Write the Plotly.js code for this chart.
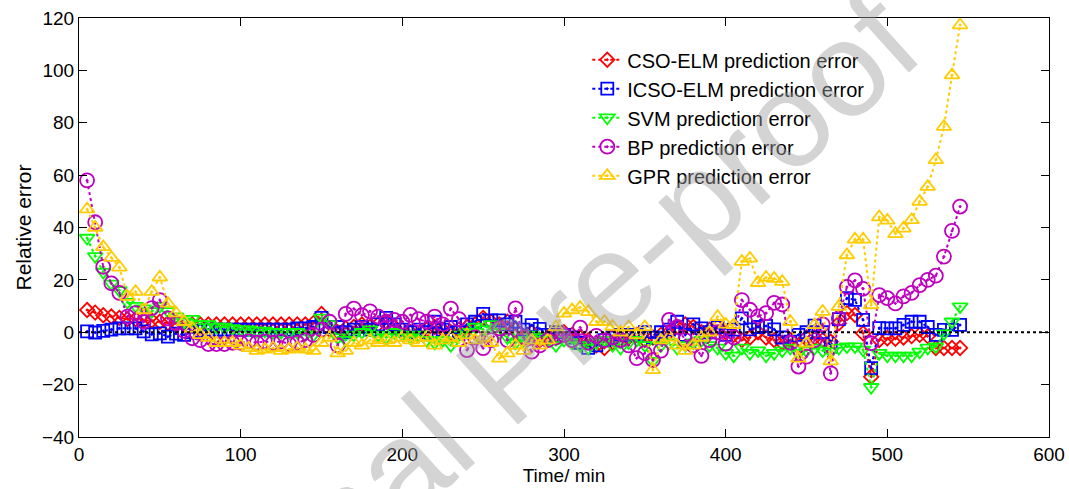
<!DOCTYPE html>
<html>
<head>
<meta charset="utf-8">
<script src="https://cdn.plot.ly/plotly-3.0.1.min.js"></script>
<style>html,body{margin:0;padding:0;background:#fff}#chart{width:1069px;height:489px}</style>
</head>
<body>
<div id="chart"></div>
<script>
const timeMin = [5,10,15,20,25,30,35,40,45,50,55,60,65,70,75,80,85,90,95,100,
105,110,115,120,125,130,135,140,145,150,155,160,165,170,175,180,185,190,195,200,
205,210,215,220,225,230,235,240,245,250,255,260,265,270,275,280,285,290,295,300,
305,310,315,320,325,330,335,340,345,350,355,360,365,370,375,380,385,390,395,400,
405,410,415,420,425,430,435,440,445,450,455,460,465,470,475,480,485,490,495,500,
505,510,515,520,525,530,535,540,545];

const csoElm = [8.5,7.5,6.5,6,5.5,5,5,4.5,4.5,4,
3.5,3.5,3,3,3,3,3,3,3,3,
3,3,3,3,3,3,3,3,3.5,7,
1,0,1.5,2,3,2,3,4,2,1,
0,-1,1,2,1,0,1,2,3,5.5,
4,3,4,1,-2,0,-3,-2,-1,0,
-1,-2,-3,-5,-6,-4,-3,-2,-1,-3,
-2,-1,0,2,3,2,0,1,2,0,
-1,-3,-2,0,-2,-3,-4,-3,-5,-2,
-2,-3,-3.6,3.4,7.3,6.6,-0.4,-17,-3,-2.3,
-2.5,-2,-1.5,-1,-1.5,-6,-6,-6,-6];

const icsoElm = [0.3,-0.1,0.5,1,1.5,1.5,1.5,0.3,-0.8,-0.4,
-1.7,-0.5,-1,0,0.5,1,1,1,1,1,
1,1,1,1,1,1,1.5,1.5,2,5.5,
2,2,0,1,2,1,3,5.5,3,1,
0,1,0,4,1,2,0,3,4,7,
4.5,4.5,3,4,1,2.7,1.3,-1,0,-1,
-2,-4,-6,-5,-3,-2,-1,-1,-1,0,
-2,0,1,4,-1,3,1.5,0,2,-1,
1,5.3,1.1,2,2.4,1.1,-2,-3.6,-1,0,
2.5,0,-5.5,5,13,12.4,4.7,-13.7,1.6,1.5,
1.5,2.8,4,4,2,-1,0.9,0.9,2.8];

const svm = [36,29,23,18.5,16,11.5,10,9,8,10,
8,6,4,5,3,3,2,2,1.5,1,
1,0.5,0.5,0,0,0,0,-1,-1,5.5,
3,-2,-3,-1,0,1,-1,-2,0,-1,
-2,-1,-3,-4,-3,-5,-1,0,2,1,
3,0,-2,-4,-3,-1,-2,-3,-5,-3,
-4,-5,-6,-4,-3,-5,-6,-4,-3,-5,
-11,-5,-4,-6,-5,-4,-3,-5,-6,-8,
-9,-6,-8,-7,-9,-8,-7,-6,-8,-7,
-6,-7,-7.4,-6,-5.5,-5.5,-6.7,-21,-8,-9,
-9,-9,-9,-7.5,-6,-5.5,-0.5,4,9.8];

const bp = [58,42,25,18.7,15,6,7.3,4,9.2,12.3,
5.3,3.4,0.5,-2.3,-3,-4.5,-4.5,-4.5,-4,-4,
-3.5,-4,-3.5,-4,-3.5,-4.5,-4,-3,-1,1,
4,-5,7,9,6.5,8,6,4,4.7,4,
6.6,5,4,6,3,9,5,-6.8,-2,-6.1,
-3,1.5,-3,9.1,-2,-7.4,-5,-3,-2,-1,
-3,1.8,-4,-1.4,-3,-2,-3,-5,-9.9,-8,
-10.6,-7,4.7,2,-3,-5,-9,-3,0,-4.4,
-2,12.3,8.6,6.1,7.3,11.2,10.6,-4,-13.1,-9.3,
-3,3,-15.7,5.3,17.3,19.8,16.6,-4.2,14.2,13,
11,13.7,15,18,20,21.6,28.9,38.7,48];

const gpr = [47,40,32.6,28.5,24.8,13.6,15.5,8.5,15.5,21,
11,7.3,4,1.5,-1,-2,-4,-4,-4,-5,
-6,-7,-6.5,-6,-7,-6.5,-6,-6.5,-7,-4,
-2,-8,-7,-4,-5,-3,-4,-3,-4,-2,
-3,-4,-2,-5,-3,-2,-4,-1,-3,-2,
-4,-10,-8,-5,-7,-3,-5,-3,2,7.2,
8.5,9.5,7.8,4,4,2.2,0,2,-1,2,
-14.4,-3,-2,-5,-7,-5,-2,0,5.9,3,
2.8,27,28.2,18.9,20.9,20.5,19.3,4,-10,-4.2,
2.8,7.9,-11,9.8,29.5,35.5,35.5,10.4,44,42.7,
37.6,39.7,42.9,49.9,55.6,65.8,78.5,98.2,117.3];

const seriesNames = ['CSO-ELM prediction error','ICSO-ELM prediction error','SVM prediction error','BP prediction error','GPR prediction error'];
const refLineX = [0, 600];
const refLineY = [0, 0];

function tr(name, y, color, symbol, size) {
  return {
    x: timeMin, y: y, name: name, type: 'scatter', mode: 'lines+markers',
    line: {color: color, width: 2, dash: 'dot'},
    marker: {symbol: symbol, size: size, color: color, line: {color: color, width: 1.8}}
  };
}

const data = [
  tr(seriesNames[0], csoElm, '#ff0000', 'diamond-open-dot', 11),
  tr(seriesNames[1], icsoElm, '#0000ff', 'square-open-dot', 12),
  tr(seriesNames[2], svm, '#00ff00', 'triangle-down-open-dot', 13),
  tr(seriesNames[3], bp, '#bf00bf', 'circle-open-dot', 14),
  tr(seriesNames[4], gpr, '#ffcc00', 'triangle-up-open-dot', 13),
  {x: refLineX, y: refLineY, type: 'scatter', mode: 'lines', showlegend: false, hoverinfo: 'skip',
   line: {color: '#000', width: 2, dash: 'dot'}}
];

const fontFam = 'Arial, "Liberation Sans", sans-serif';
const layout = {
  width: 1069, height: 489,
  margin: {l: 79, r: 20, t: 18, b: 52},
  paper_bgcolor: '#fff', plot_bgcolor: '#fff',
  font: {family: fontFam, size: 19, color: '#000'},
  showlegend: true,
  legend: {x: 0.524, y: 0.947, xanchor: 'left', yanchor: 'top', bgcolor: 'rgba(0,0,0,0)',
    font: {family: fontFam, size: 20, color: '#000'}, itemwidth: 30, tracegroupgap: 0},
  xaxis: {range: [0, 600], dtick: 100, tick0: 0, ticks: 'inside', ticklen: 8, tickcolor: '#000',
    showline: true, linecolor: '#000', linewidth: 1, mirror: 'ticks', showgrid: false, zeroline: false,
    tickfont: {size: 19}, title: {text: 'Time/ min', font: {size: 19}, standoff: 2}},
  yaxis: {range: [-40, 120], dtick: 20, tick0: -40, ticks: 'inside', ticklen: 8, tickcolor: '#000',
    showline: true, linecolor: '#000', linewidth: 1, mirror: 'ticks', showgrid: false, zeroline: false,
    tickfont: {size: 19}, title: {text: 'Relative error', font: {size: 21}, standoff: 4}},
  annotations: [{
    text: 'Journal Pre-proof', xref: 'paper', yref: 'paper', x: 0.444, y: 0.160,
    xanchor: 'center', yanchor: 'middle', showarrow: false, textangle: -42,
    font: {family: fontFam, size: 135, color: 'rgba(160,160,160,0.45)'}
  }]
};

Plotly.newPlot('chart', data, layout, {staticPlot: true, displayModeBar: false});
</script>
</body>
</html>
